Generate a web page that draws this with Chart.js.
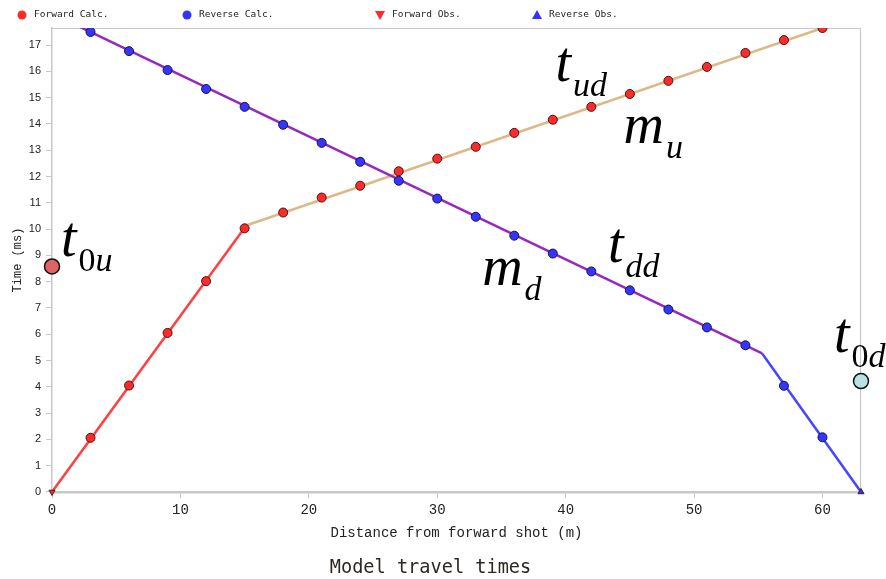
<!DOCTYPE html>
<html>
<head>
<meta charset="utf-8">
<script src="https://cdn.jsdelivr.net/npm/chart.js@4.4.1/dist/chart.umd.min.js"></script>
<style>
  html, body { margin: 0; padding: 0; background: #fff; }
</style>
</head>
<body>
<canvas id="chart" width="886" height="579"></canvas>
<script>
// geophone positions (m) and calculated travel times (ms)
const shotX = [3, 6, 9, 12, 15, 18, 21, 24, 27, 30, 33, 36, 39, 42, 45, 48, 51, 54, 57, 60];
const forwardCalc = [2.06, 4.05, 6.05, 8.02, 10.03, 10.63, 11.2, 11.65, 12.2, 12.68, 13.13, 13.66, 14.16, 14.65, 15.14, 15.64, 16.17, 16.7, 17.19, 17.65];
const reverseCalc = [17.5, 16.77, 16.05, 15.33, 14.65, 13.97, 13.28, 12.56, 11.84, 11.16, 10.47, 9.75, 9.07, 8.39, 7.67, 6.94, 6.26, 5.58, 4.04, 2.08];

// observed picks (only at shot points)
const forwardObsX = [0];
const forwardObsT = [0];
const reverseObsX = [63];
const reverseObsT = [0];

// model travel-time segments
const fwdDirectX = [0, 15];
const fwdDirectT = [0, 10.05];
const fwdRefrX = [15, 60];
const fwdRefrT = [10.12, 17.65];
const revDirectX = [63, 55.3];
const revDirectT = [0, 5.27];
const revRefrX = [55.3, 0];
const revRefrT = [5.27, 18.2];

// intercept times
const interceptX = [0, 63];
const interceptT = [8.58, 4.22];

// annotation labels (anchored at data coordinates)
const annoMain = ['t', 'm', 'm', 't', 't', 't'];
const annoSub = ['ud', 'u', 'd', 'dd', '0u', '0d'];
const annoX = [39.2, 44.5, 33.5, 43.3, 0.7, 60.9];
const annoY = [15.64, 13.28, 7.86, 8.73, 8.99, 5.31];

const xTicks = [0, 10, 20, 30, 40, 50, 60];

const pts = (xs, ys) => xs.map((x, i) => ({ x, y: ys[i] }));
const gray = '#c8c8c8';
const mono = '"Liberation Mono", monospace';

const legendItems = [
  { text: 'Forward Calc.', style: 'circle', color: '#ff2b2b' },
  { text: 'Reverse Calc.', style: 'circle', color: '#3333ff' },
  { text: 'Forward Obs.', style: 'down', color: '#ff2b2b' },
  { text: 'Reverse Obs.', style: 'up', color: '#3333ff' }
];
const legendSlots = [22, 187, 380, 537];

const frame = {
  id: 'frame',
  beforeDatasetsDraw(chart) {
    const { ctx, chartArea: a } = chart;
    ctx.save();
    ctx.strokeStyle = gray;
    ctx.lineWidth = 1.2;
    ctx.beginPath();
    ctx.moveTo(a.left, a.top + 0.5);
    ctx.lineTo(a.right - 0.5, a.top + 0.5);
    ctx.lineTo(a.right - 0.5, a.bottom);
    ctx.stroke();
    ctx.restore();
  },
  afterDraw(chart) {
    const { ctx } = chart;
    const xs = chart.scales.x, ys = chart.scales.y;

    // legend
    ctx.save();
    ctx.font = '9.5px "DejaVu Sans Mono", monospace';
    ctx.textBaseline = 'middle';
    const ly = 15;
    legendItems.forEach((it, i) => {
      const lx = legendSlots[i];
      ctx.fillStyle = it.color;
      ctx.beginPath();
      if (it.style === 'circle') {
        ctx.arc(lx, ly, 4.5, 0, Math.PI * 2);
      } else if (it.style === 'down') {
        ctx.moveTo(lx - 5, ly - 4); ctx.lineTo(lx + 5, ly - 4); ctx.lineTo(lx, ly + 5);
      } else {
        ctx.moveTo(lx - 5, ly + 4); ctx.lineTo(lx + 5, ly + 4); ctx.lineTo(lx, ly - 5);
      }
      ctx.fill();
      ctx.fillStyle = '#222';
      ctx.fillText(it.text, lx + 12, ly);
    });
    ctx.restore();

    // t / m labels
    ctx.save();
    ctx.fillStyle = '#000';
    ctx.textBaseline = 'alphabetic';
    annoMain.forEach((m, i) => {
      const px = xs.getPixelForValue(annoX[i]);
      const py = ys.getPixelForValue(annoY[i]);
      ctx.font = 'italic 56px "Liberation Serif"';
      ctx.fillText(m, px, py);
      let sx = px + ctx.measureText(m).width + 2;
      for (const ch of annoSub[i]) {
        ctx.font = (ch === '0' ? '' : 'italic ') + '34px "Liberation Serif"';
        ctx.fillText(ch, sx, py + 15);
        sx += ctx.measureText(ch).width;
      }
    });
    ctx.restore();
  }
};

new Chart(document.getElementById('chart'), {
  type: 'scatter',
  data: {
    datasets: [
      { label: 'Forward Calc.', data: pts(shotX, forwardCalc), pointStyle: 'circle', pointRadius: 4.5,
        pointBackgroundColor: '#ff2b2b', pointBorderColor: '#4a1010', pointBorderWidth: 1, order: 0 },
      { label: 'Reverse Calc.', data: pts(shotX, reverseCalc), pointStyle: 'circle', pointRadius: 4.5,
        pointBackgroundColor: '#3535ff', pointBorderColor: '#12124a', pointBorderWidth: 1, order: 0 },
      { label: 'Forward Obs.', data: pts(forwardObsX, forwardObsT), pointStyle: 'triangle', pointRotation: 180,
        pointRadius: 3.5, pointBackgroundColor: '#ff2b2b', pointBorderColor: '#402020', pointBorderWidth: 1, clip: false, order: 0 },
      { label: 'Reverse Obs.', data: pts(reverseObsX, reverseObsT), pointStyle: 'triangle',
        pointRadius: 3.5, pointBackgroundColor: '#3333ff', pointBorderColor: '#402020', pointBorderWidth: 1, clip: false, order: 0 },
      { label: 'fwd direct', data: pts(fwdDirectX, fwdDirectT), showLine: true, pointRadius: 0, borderColor: '#ff4040', borderWidth: 2.5, order: 2 },
      { label: 'fwd refracted', data: pts(fwdRefrX, fwdRefrT), showLine: true, pointRadius: 0, borderColor: '#deb887', borderWidth: 2.5, order: 2 },
      { label: 'rev direct', data: pts(revDirectX, revDirectT), showLine: true, pointRadius: 0, borderColor: '#4646ff', borderWidth: 2.5, order: 1 },
      { label: 'rev refracted', data: pts(revRefrX, revRefrT), showLine: true, pointRadius: 0, borderColor: '#9628be', borderWidth: 2.5, order: 1 },
      { label: 't0', data: pts(interceptX, interceptT), pointStyle: 'circle', pointRadius: 7.5,
        pointBackgroundColor: ['#e06464', '#b9e3e3'], pointBorderColor: '#111', pointBorderWidth: 1.5, clip: false, order: -1 }
    ]
  },
  options: {
    responsive: false,
    animation: false,
    devicePixelRatio: 1,
    layout: { padding: { top: 28, right: 25, left: 0, bottom: 0 } },
    plugins: {
      legend: { display: false },
      tooltip: { enabled: false },
      title: {
        display: true,
        position: 'bottom',
        text: 'Model travel times',
        color: '#2e2620',
        font: { family: '"DejaVu Sans Mono", monospace', size: 18.6, weight: 'normal' },
        padding: { top: 12, bottom: 0 }
      }
    },
    scales: {
      x: {
        type: 'linear',
        min: 0,
        max: 63,
        afterBuildTicks: s => { s.ticks = xTicks.map(v => ({ value: v })); },
        afterFit: s => { s.height = 52.7; },
        ticks: { color: '#222', font: { family: mono, size: 14 }, padding: 4 },
        grid: { drawOnChartArea: false, drawTicks: true, tickLength: 6, color: gray, tickColor: gray },
        border: { color: gray, width: 2.5 },
        title: { display: true, text: 'Distance from forward shot (m)', color: '#222',
          font: { family: mono, size: 14 }, padding: { top: 4, bottom: 3.3 } }
      },
      y: {
        min: 0,
        max: 17.65,
        afterBuildTicks: s => { s.ticks = s.ticks.filter(t => Number.isInteger(t.value)); },
        afterFit: s => { s.width = 52; },
        ticks: { stepSize: 1, color: '#222', font: { family: '"Liberation Sans", sans-serif', size: 11 }, padding: 5 },
        grid: { drawOnChartArea: false, drawTicks: true, tickLength: 6, color: gray, tickColor: gray },
        border: { color: gray, width: 1.5 },
        title: { display: true, text: 'Time (ms)', color: '#222',
          font: { family: mono, size: 12 }, padding: { top: 10.8, bottom: 0 } }
      }
    }
  },
  plugins: [frame]
});
</script>
</body>
</html>
